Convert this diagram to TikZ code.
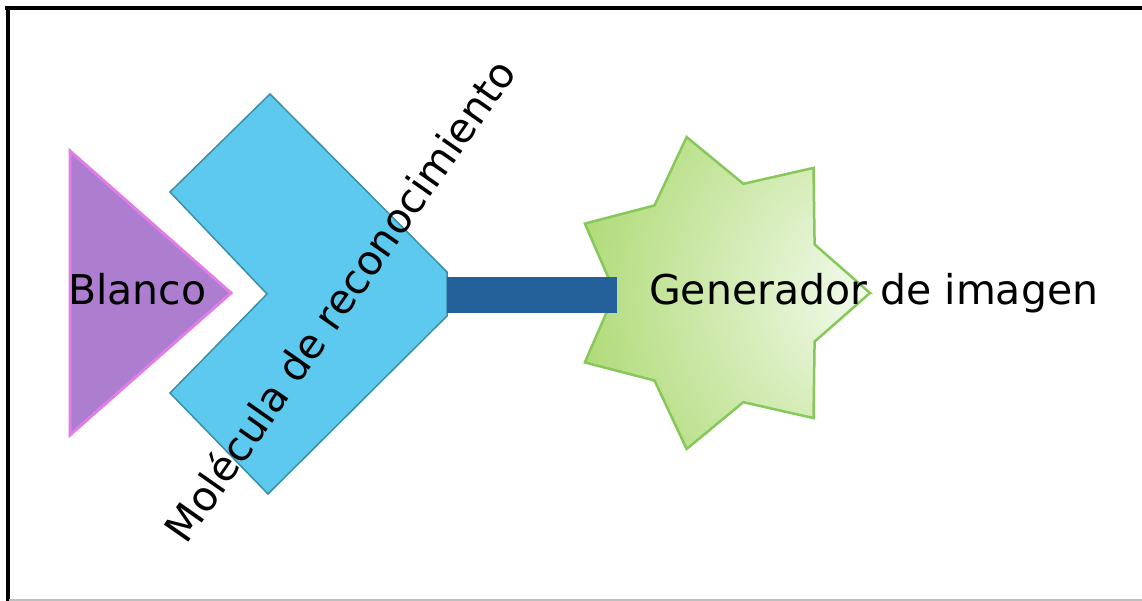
\documentclass[tikz,border=0pt]{standalone}
\usepackage{fontspec}
\setmainfont{DejaVu Sans}
\begin{document}
\begin{tikzpicture}[x=1pt,y=-1pt,
  label/.style={font=\fontsize{41}{49}\selectfont, inner sep=0pt, text=black},
  target/.style={fill=tgtfill, draw=tgtedge, line width=3pt, line join=miter},
  receptor/.style={fill=recfill, draw=recedge, line width=1.5pt, line join=miter},
  linker/.style={draw=linkfill, line width=36pt},
  starline/.style={draw=staredge, line width=2.5pt, line join=miter}]
\definecolor{tgtfill}{HTML}{AD7DCF}
\definecolor{tgtedge}{HTML}{E07DE8}
\definecolor{recfill}{HTML}{5DC9EE}
\definecolor{recedge}{HTML}{3E8EA6}
\definecolor{linkfill}{HTML}{24619A}
\definecolor{staredge}{HTML}{86C85A}
\definecolor{stargreen}{HTML}{A6D666}
\definecolor{starlight}{HTML}{F4FBEE}
\useasboundingbox (0,0) rectangle (1142,601);
\fill[white] (0,0) rectangle (1142,601);

% frame
\draw[line width=4pt] (5,8) -- (1142,8);
\draw[line width=3.5pt] (7.8,6) -- (7.8,601);
\draw[line width=1.5pt, color=black!25] (9,600) -- (1142,600);

% target triangle
\draw[target] (70,151) -- (231,293) -- (70,435) -- cycle;

% recognition molecule (chevron)
\draw[receptor] (270,94) -- (447,272) -- (447,316) -- (268,494)
  -- (170,393) -- (267,294) -- (170,192) -- cycle;

% image generator (seven-pointed star)
\def\starpath{(0:150pt and 160pt)
  \foreach \k in {0,...,6} {
    -- ({\k*51.4286+25.7143}:105pt and 112pt)
    -- ({(\k+1)*51.4286}:150pt and 160pt)} -- cycle}
\begin{scope}[shift={(720,293)}]
  \begin{scope}
    \path[clip] \starpath;
    \shade[inner color=starlight, outer color=stargreen] (150,0) circle (340);
  \end{scope}
  \draw[starline] \starpath;
\end{scope}

% linker bar between the molecule and the generator
\coordinate (molr) at (447,295);
\coordinate (genl) at (617,295);
\draw[linker] (molr) -- (genl);

% labels
\node[label, anchor=base west] (blanco) at (68,305) {Blanco};
\node[label, anchor=base west] (gen) at (649,305) {Generador de imagen};
\node[label, rotate=55] (mol) at (339,300) {Molécula de reconocimiento};
\end{tikzpicture}
\end{document}
